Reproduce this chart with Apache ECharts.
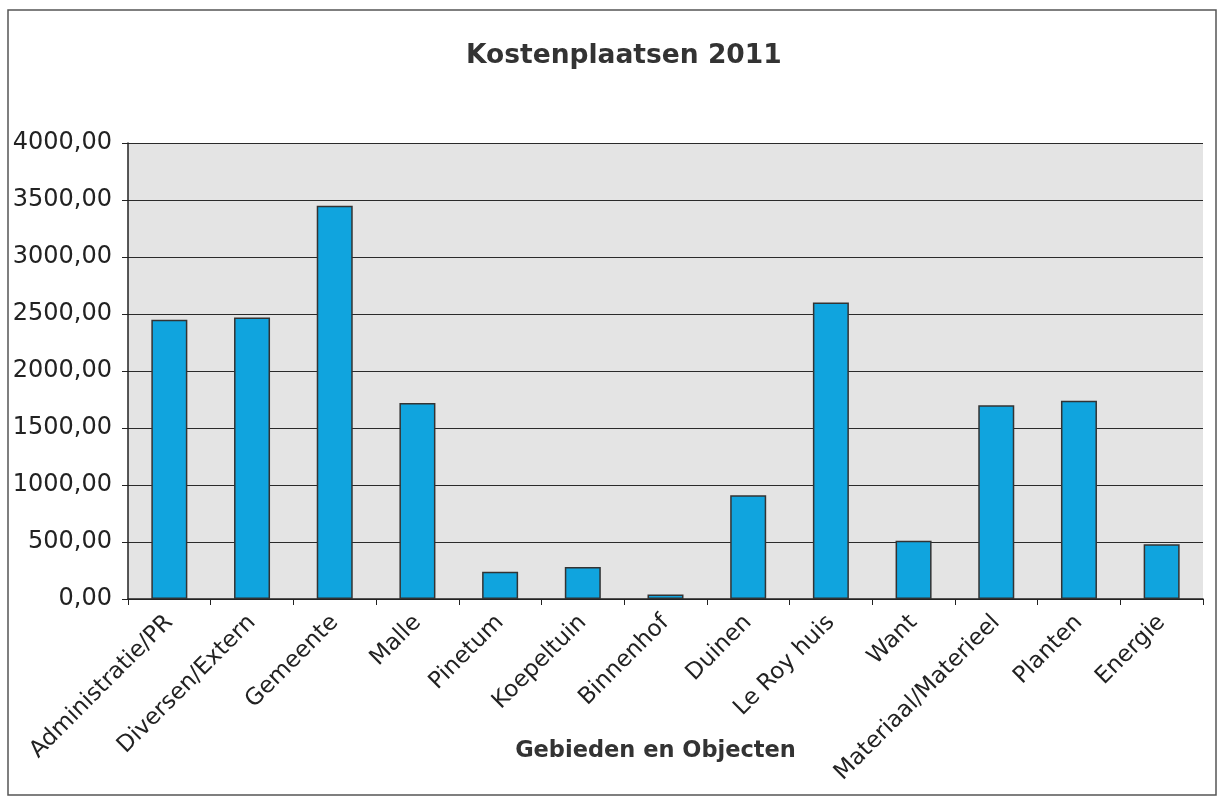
<!DOCTYPE html>
<html>
<head>
<meta charset="utf-8">
<script src="https://cdn.jsdelivr.net/npm/echarts@6/dist/echarts.min.js"></script>
<style>
html,body{margin:0;padding:0;background:#fff;}
#chart{width:1220px;height:798px;}
</style>
</head>
<body>
<div id="chart"></div>
<script>
const categories = ['Administratie/PR','Diversen/Extern','Gemeente','Malle','Pinetum','Koepeltuin','Binnenhof','Duinen','Le Roy huis','Want','Materiaal/Materieel','Planten','Energie'];
const costs = [2450, 2470, 3450, 1720, 240, 280, 40, 910, 2600, 510, 1700, 1740, 480];
const titleText = 'Kostenplaatsen 2011';
const xAxisName = 'Gebieden en Objecten';

const chart = echarts.init(document.getElementById('chart'));
chart.setOption({
  animation: false,
  backgroundColor: '#ffffff',
  title: {
    text: titleText,
    left: 461,
    top: 38,
    textStyle: {fontFamily: 'DejaVu Sans', fontSize: 26.5, fontWeight: 'bold', color: '#333333'}
  },
  graphic: [{
    type: 'rect',
    shape: {x: 8, y: 10, width: 1208, height: 785},
    style: {fill: 'none', stroke: '#555555', lineWidth: 1.5},
    silent: true
  }],
  grid: {
    left: 128, right: 17, top: 143, bottom: 199,
    show: true, backgroundColor: '#e4e4e4', borderWidth: 0
  },
  xAxis: {
    type: 'category',
    data: categories,
    name: xAxisName,
    nameLocation: 'middle',
    nameGap: 141,
    nameMoveOverlap: false,
    nameTextStyle: {fontFamily: 'DejaVu Sans', fontSize: 22.5, fontWeight: 'bold', color: '#333333', padding: [0, 20, 0, 0]},
    axisLine: {show: true, lineStyle: {color: '#222222', width: 1.5}},
    axisTick: {show: true, alignWithLabel: false, length: 6, lineStyle: {color: '#222222'}},
    axisLabel: {interval: 0, rotate: 45, margin: 20, fontFamily: 'DejaVu Sans', fontSize: 23, color: '#222222'}
  },
  yAxis: {
    type: 'value',
    min: 0, max: 4000, interval: 500,
    axisLine: {show: true, lineStyle: {color: '#222222', width: 1.5}},
    axisTick: {show: true, length: 6, lineStyle: {color: '#222222'}},
    splitLine: {show: true, lineStyle: {color: '#2a2a2a', width: 1.2}},
    axisLabel: {
      margin: 16, fontFamily: 'DejaVu Sans', fontSize: 24, color: '#222222',
      formatter: v => v.toFixed(2).replace('.', ',')
    }
  },
  series: [{
    type: 'bar',
    data: costs,
    barWidth: 36,
    itemStyle: {color: '#10a4de', borderColor: '#333333', borderWidth: 1.5}
  }]
});
</script>
</body>
</html>
